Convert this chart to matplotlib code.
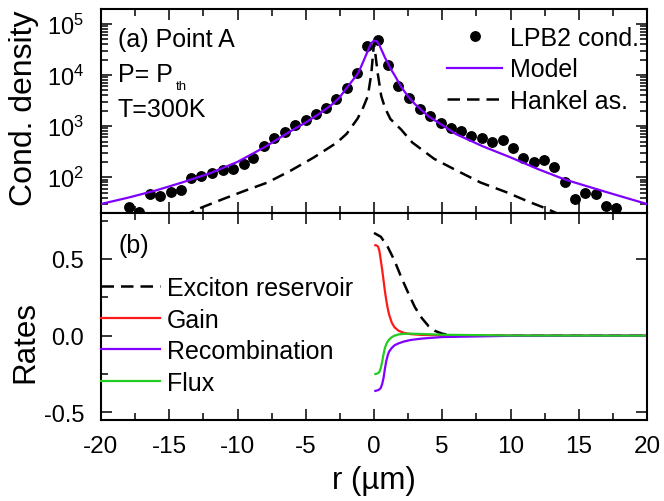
import matplotlib
matplotlib.use("Agg")
import matplotlib.pyplot as plt
from matplotlib.ticker import MultipleLocator, LogLocator, NullFormatter

plt.rcParams["font.family"] = ["Liberation Sans", "DejaVu Sans"]
plt.rcParams["mathtext.fontset"] = "custom"
plt.rcParams["mathtext.rm"] = "Liberation Sans"
plt.rcParams["mathtext.it"] = "Liberation Sans:italic"
plt.rcParams["axes.unicode_minus"] = False

# (a) condensate density vs r
r_dots = [-17.93, -17.20, -16.39, -15.66, -14.88, -14.15, -13.37, -12.64, -11.86, -11.08,
          -10.31, -9.56, -8.83, -8.06, -7.33, -6.54, -5.76, -4.99, -4.26, -3.52,
          -2.79, -2.01, -1.23, -0.50, 0.31, 1.06, 1.79, 2.57, 3.34, 4.10,
          4.88, 5.65, 6.38, 7.14, 7.92, 8.67, 9.42, 10.18, 10.93, 11.69,
          12.42, 13.20, 13.98, 14.75, 15.48, 16.26, 17.00, 17.75]
n_dots = [25.8, 21.1, 46.2, 43.4, 50.6, 56.9, 95, 104, 121, 140,
          148, 179, 241, 413, 593, 776, 1050, 1300, 1700, 2290,
          3390, 5640, 10900, 37400, 47700, 15700, 6230, 3500, 2190, 1600,
          1150, 940, 820, 650, 580, 495, 535, 367, 241, 201,
          214, 162, 79, 38, 49, 47.5, 27.3, 24.9]

r_model = [-20, -18, -16, -14, -12, -10, -8, -6, -5, -4, -3, -2.5, -2, -1.5, -1.2, -1.0,
           -0.8, -0.6, -0.4, -0.2, 0, 0.2, 0.4, 0.6, 0.8, 1.0, 1.2, 1.5, 2, 2.5, 3, 4,
           5, 6, 8, 10, 12, 14, 16, 18, 20]
n_model = [30, 40, 55, 80, 120, 200, 390, 830, 1180, 1750, 2750, 3700, 5600, 8300, 10500, 13500,
           18000, 24000, 32000, 42000, 47000, 46000, 38000, 29000, 22000, 17500, 13500, 10000, 5800, 3800, 2700, 1550,
           1050, 700, 400, 245, 145, 90, 62, 43, 30]

r_hankel = [-14, -13, -11, -9.5, -7.8, -6.1, -4.4, -2.7, -2, -1.2, -0.8, -0.45, -0.2, 0,
            0.28, 0.53, 0.8, 1.2, 2, 2.8, 4.4, 6.0, 7.8, 9.7, 11.4, 12.7, 14]
n_hankel = [16.6, 23.4, 38, 54, 79, 135, 245, 480, 710, 1410, 2290, 3890, 10500, 42000,
            10500, 3890, 2290, 1380, 850, 480, 230, 138, 79, 51, 32.7, 24, 16.6]

# (b) rates vs r
r_exc = [0.0, 0.5, 1.0, 1.5, 2.0, 2.5, 3.0, 3.5, 4.0, 4.5, 5.0, 5.5, 6, 8, 10, 15, 20]
exciton = [0.67, 0.645, 0.58, 0.49, 0.38, 0.28, 0.185, 0.115, 0.062, 0.03, 0.013, 0.005, 0.002, 0, 0, 0, 0]

r_rate = [0.1, 0.2, 0.3, 0.4, 0.5, 0.6, 0.7, 0.8, 0.9, 1.0, 1.1, 1.3, 1.5, 1.8, 2.2, 2.7, 3.5, 5, 10, 20]
gain = [0.59, 0.588, 0.58, 0.55, 0.49, 0.43, 0.36, 0.29, 0.23, 0.18, 0.14, 0.085, 0.055, 0.032,
        0.018, 0.01, 0.005, 0.002, 0, 0]
recomb = [-0.36, -0.358, -0.355, -0.35, -0.34, -0.315, -0.275, -0.215, -0.165, -0.13, -0.105, -0.08,
          -0.063, -0.05, -0.038, -0.028, -0.019, -0.009, -0.001, 0]
flux = [-0.25, -0.248, -0.245, -0.235, -0.21, -0.17, -0.12, -0.08, -0.055, -0.038, -0.026, -0.01,
        0.0, 0.008, 0.012, 0.013, 0.011, 0.006, 0.001, 0]

xticks = [-20, -15, -10, -5, 0, 5, 10, 15, 20]

PURPLE = "#8000ff"
RED = "#ff1a1a"
GREEN = "#22cc22"
DASH = (0, (5, 2.8))

W, H = 664, 502
fig = plt.figure(figsize=(W / 100, H / 100), dpi=100)
left, right = 101, 647
ax1 = fig.add_axes([left / W, 1 - 214 / H, (right - left) / W, (214 - 9.5) / H])
ax2 = fig.add_axes([left / W, 1 - 421 / H, (right - left) / W, (421 - 214) / H])

ax1.plot(r_dots, n_dots, "o", color="black", ms=6.8, label="LPB2 cond.", zorder=3)
ax1.plot(r_model, n_model, color=PURPLE, lw=1.6, label="Model", zorder=4)
ax1.plot(r_hankel, n_hankel, color="black", lw=1.8, ls=DASH, label="Hankel as.", zorder=2)
ax1.set_yscale("log")
ax1.set_ylim(20, 2e5)
ax1.yaxis.set_major_locator(LogLocator(base=10, numticks=10))
ax1.yaxis.set_minor_locator(LogLocator(base=10, subs=range(2, 10), numticks=20))
ax1.yaxis.set_minor_formatter(NullFormatter())
ax1.set_yticks([1e2, 1e3, 1e4, 1e5])

ax2.plot(r_exc, exciton, color="black", lw=1.8, ls=DASH, label="Exciton reservoir")
ax2.plot(r_rate, gain, color=RED, lw=1.6, label="Gain")
ax2.plot(r_rate, recomb, color=PURPLE, lw=1.6, label="Recombination")
ax2.plot(r_rate, flux, color=GREEN, lw=1.6, label="Flux")
ax2.set_ylim(-0.55, 0.8)
ax2.set_yticks([-0.5, 0.0, 0.5])
ax2.set_yticklabels(["-0.5", "0.0", "0.5"])
ax2.yaxis.set_minor_locator(MultipleLocator(0.25))

for ax in (ax1, ax2):
    ax.set_xlim(-20, 20)
    ax.set_xticks(xticks)
    ax.xaxis.set_minor_locator(MultipleLocator(2.5))
    for s in ax.spines.values():
        s.set_linewidth(1.5)
    ax.tick_params(which="both", direction="in", top=True, right=True, width=1.1)
    ax.tick_params(which="major", length=8)
    ax.tick_params(which="minor", length=5)
    ax.tick_params(axis="x", labelsize=17.5, pad=11)
    ax.tick_params(axis="y", labelsize=17, pad=12)

ax2.tick_params(axis="y", which="minor", right=False)
ax1.tick_params(labelbottom=False)
ax2.set_xticklabels([str(t) for t in xticks])

ax1.legend(loc="upper right", bbox_to_anchor=(0.985, 0.915), frameon=False, fontsize=18,
           handlelength=2.2, handletextpad=0.3, labelspacing=0.3, borderpad=0,
           borderaxespad=0, numpoints=1)
ax2.legend(loc="upper left", bbox_to_anchor=(0.0, 0.695), frameon=False, fontsize=18,
           handlelength=2.35, handletextpad=0.3, labelspacing=0.3, borderpad=0,
           borderaxespad=0)

tx = 118 / W
fig.text(tx, 1 - 47 / H, "(a) Point A", fontsize=18, va="baseline")
fig.text(tx, 1 - 82 / H, "P= P", fontsize=18, va="baseline")
fig.text(176 / W, 1 - 90 / H, "th", fontsize=9.5, va="baseline")
fig.text(tx, 1 - 117 / H, "T=300K", fontsize=18, va="baseline")
fig.text(tx, 1 - 253 / H, "(b)", fontsize=18, va="baseline")

fig.text(24 / W, 1 - 108 / H, "Cond. density", fontsize=23, rotation=90, ha="center", va="center")
fig.text(25 / W, 1 - 342 / H, "Rates", fontsize=22.5, rotation=90, ha="center", va="center")
fig.text(374 / W, 1 - 481 / H, "r (µm)", fontsize=22.5, ha="center", va="center")

fig.savefig("out.png", dpi=100)
